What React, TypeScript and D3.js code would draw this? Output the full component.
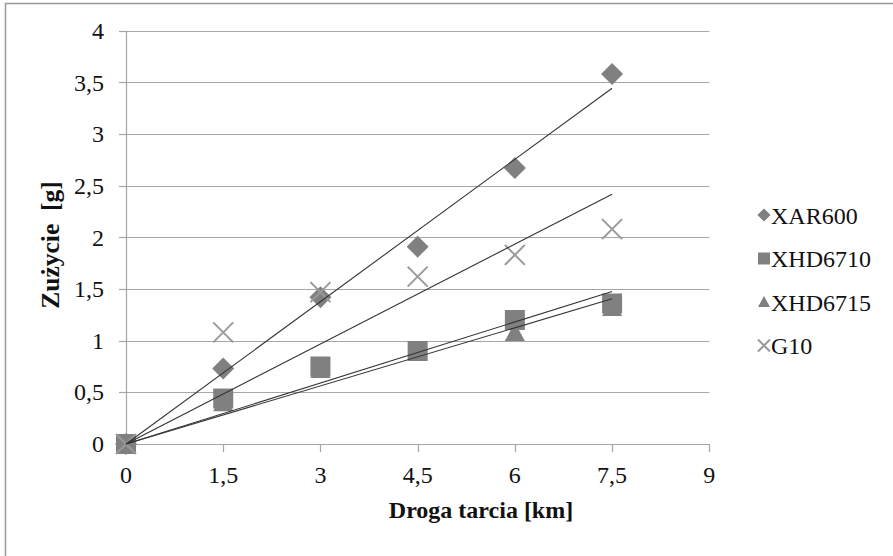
import * as d3 from 'd3'

const distances = [0, 1.5, 3, 4.5, 6, 7.5]
const xar600 = [0, 0.73, 1.42, 1.91, 2.67, 3.58]
const xhd6710 = [0, 0.44, 0.75, 0.9, 1.2, 1.36]
const xhd6715 = [0, 0.4, 0.72, 0.9, 1.08, 1.32]
const g10 = [0, 1.08, 1.47, 1.62, 1.83, 2.08]
const xTicks = [0, 1.5, 3, 4.5, 6, 7.5, 9]
const yTicks = [0, 0.5, 1, 1.5, 2, 2.5, 3, 3.5, 4]

const seriesList = [
  { name: 'XAR600', values: xar600, shape: 'diamond' },
  { name: 'XHD6710', values: xhd6710, shape: 'square' },
  { name: 'XHD6715', values: xhd6715, shape: 'triangle' },
  { name: 'G10', values: g10, shape: 'cross' },
]

const fmt = (v: number) => String(v).replace('.', ',')
const font = "'Liberation Serif', 'Times New Roman', Tinos, Times"
const gridColor = '#a6a6a6'

// marker outline for a given half-size r
const markerPath = (shape: string, r: number) => {
  const p = d3.path()
  if (shape === 'diamond') {
    const d = r * 1.1
    p.moveTo(0, -d); p.lineTo(d, 0); p.lineTo(0, d); p.lineTo(-d, 0); p.closePath()
  } else if (shape === 'square') {
    p.rect(-r, -r, 2 * r, 2 * r)
  } else if (shape === 'triangle') {
    p.moveTo(0, -r); p.lineTo(r, r * 0.85); p.lineTo(-r, r * 0.85); p.closePath()
  } else {
    p.moveTo(-r, -r); p.lineTo(r, r); p.moveTo(r, -r); p.lineTo(-r, r)
  }
  return p.toString()
}

function Marker({ shape, r, cx, cy }: { shape: string; r: number; cx: number; cy: number }) {
  const d = markerPath(shape, r)
  return shape === 'cross'
    ? <path d={d} transform={`translate(${cx},${cy})`} fill="none" stroke="#9a9a9a" strokeWidth={2} />
    : <path d={d} transform={`translate(${cx},${cy})`} fill="#808080" />
}

function Label(props: any) {
  const { children, style, ...rest } = props
  return (
    <text fontSize={24} fill="#111" fontFamily={font} style={{ fontFamily: font, ...style }} {...rest}>
      {children}
    </text>
  )
}

export default function App() {
  const width = 893
  const height = 556
  const x = d3.scaleLinear().domain([0, 9]).range([126, 709.3])
  const y = d3.scaleLinear().domain([0, 4]).range([444, 30.7])
  const sxx = d3.sum(distances, d => d * d)
  const xmax = d3.max(distances) as number
  const snap = (v: number) => Math.round(v) + 0.5

  return (
    <div style={{ position: 'absolute', left: 0, top: 0 }}>
      <svg width={width} height={height} style={{ display: 'block' }}>
        {/* outer frame; right and bottom edges fall outside */}
        <rect x={5.5} y={3.5} width={width} height={height} fill="#fff" stroke="#999" strokeWidth={1.5} />

        {/* gridlines */}
        {yTicks.filter(t => t > 0).map(t => (
          <line key={t} x1={x(0)} x2={x(9)} y1={snap(y(t))} y2={snap(y(t))} stroke={gridColor} strokeWidth={1.2} />
        ))}

        {/* y axis */}
        <line x1={snap(x(0))} x2={snap(x(0))} y1={y(4)} y2={y(0)} stroke={gridColor} strokeWidth={1.2} />
        {yTicks.map(t => (
          <g key={t}>
            <line x1={x(0) - 7} x2={x(0)} y1={snap(y(t))} y2={snap(y(t))} stroke={gridColor} strokeWidth={1.2} />
            <Label x={104} y={y(t)} dy="0.34em" textAnchor="end">{fmt(t)}</Label>
          </g>
        ))}

        {/* x axis */}
        <line x1={x(0)} x2={x(9)} y1={snap(y(0))} y2={snap(y(0))} stroke={gridColor} strokeWidth={1.2} />
        {xTicks.map(t => (
          <g key={t}>
            <line x1={snap(x(t))} x2={snap(x(t))} y1={y(0)} y2={y(0) + 8} stroke={gridColor} strokeWidth={1.2} />
            <Label x={x(t)} y={483} textAnchor="middle">{fmt(t)}</Label>
          </g>
        ))}

        {/* markers */}
        {seriesList.map(s => (
          <g key={s.name}>
            {s.values.map((v, i) => (
              <Marker key={i} shape={s.shape} r={10} cx={x(distances[i])} cy={y(v)} />
            ))}
          </g>
        ))}

        {/* linear trend lines through the origin */}
        {seriesList.map(s => {
          const k = d3.sum(distances, (d, i) => d * s.values[i]) / sxx
          return (
            <line key={s.name} x1={x(0)} y1={y(0)} x2={x(xmax)} y2={y(k * xmax)} stroke="#333" strokeWidth={1.1} />
          )
        })}

        {/* legend */}
        {seriesList.map((s, i) => {
          const cy = 215 + i * 43.5
          return (
            <g key={s.name}>
              <Marker shape={s.shape} r={6} cx={764} cy={cy} />
              <Label x={771} y={cy + 8.5}>{s.name}</Label>
            </g>
          )
        })}

        {/* axis titles */}
        <Label x={481} y={518} textAnchor="middle" fontWeight="bold">Droga tarcia [km]</Label>
        <Label transform="translate(59,245) rotate(-90)" textAnchor="middle" fontWeight="bold" fontSize={25.5}
          style={{ whiteSpace: 'pre' }}>
          {'Zużycie  [g]'}
        </Label>
      </svg>
    </div>
  )
}
